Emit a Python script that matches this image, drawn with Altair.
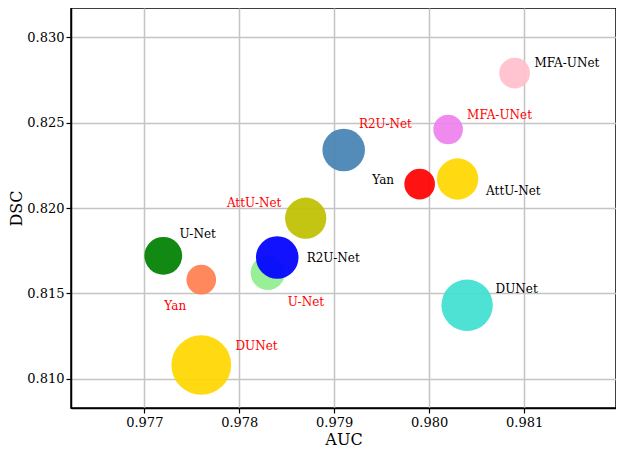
import altair as alt
import pandas as pd

# bubble data (draw order matters: later on top)
names = ["U-Net", "Yan", "U-Net", "R2U-Net", "AttU-Net", "R2U-Net",
         "Yan", "AttU-Net", "MFA-UNet", "MFA-UNet", "DUNet", "DUNet"]
auc = [0.9772, 0.9776, 0.9783, 0.9784, 0.9787, 0.9791,
       0.9799, 0.9803, 0.9802, 0.9809, 0.9804, 0.9776]
dsc = [0.8172, 0.8158, 0.8162, 0.8171, 0.8194, 0.8234,
       0.8214, 0.8217, 0.8246, 0.8279, 0.8143, 0.8108]
bubble = [1425, 876, 1170, 1810, 1700, 1810,
          940, 1705, 876, 940, 2642, 3568]
colors = ["#008000", "#FF7F50", "#90EE90", "#0000FF", "#BFBF00", "#4682B4",
          "#FF0000", "#FFD700", "#EE82EE", "#FFC0CB", "#40E0D0", "#FFD700"]
label_colors = ["black", "red", "red", "black", "red", "red",
                "black", "black", "red", "black", "black", "red"]
label_auc = [0.97737, 0.97721, 0.97851, 0.97871, 0.97787, 0.97926,
             0.97940, 0.98060, 0.98040, 0.98111, 0.98070, 0.97796]
label_dsc = [0.81848, 0.81424, 0.81447, 0.81707, 0.82029, 0.82494,
             0.82164, 0.82097, 0.82547, 0.82849, 0.81525, 0.81189]

x_ticks = [0.977, 0.978, 0.979, 0.980, 0.981]
y_ticks = [0.810, 0.815, 0.820, 0.825, 0.830]

df = pd.DataFrame({
    "name": names, "AUC": auc, "DSC": dsc, "bubble": bubble,
    "color": colors, "lcolor": label_colors,
    "lx": label_auc, "ly": label_dsc,
})

FONT = "DejaVu Serif"

xscale = alt.Scale(domain=[0.976228, 0.981968], nice=False, zero=False)
yscale = alt.Scale(domain=[0.80828, 0.83172], nice=False, zero=False)

xaxis = alt.Axis(values=x_ticks, format=".3f", title="AUC", grid=True,
                 gridColor="#c4c4c4", gridWidth=1.5, domainColor="black",
                 domainWidth=1.5, tickColor="black", tickSize=5, tickWidth=1.2,
                 labelFont=FONT, labelFontSize=13, labelColor="black",
                 labelPadding=3, titleFont=FONT, titleFontSize=16,
                 titleFontWeight="normal", titleColor="black", titlePadding=2)
yaxis = alt.Axis(values=y_ticks, format=".3f", title="DSC", grid=True,
                 gridColor="#c4c4c4", gridWidth=1.5, domainColor="black",
                 domainWidth=1.5, tickColor="black", tickSize=5, tickWidth=1.2,
                 labelFont=FONT, labelFontSize=13, labelColor="black",
                 labelPadding=2, titleFont=FONT, titleFontSize=16,
                 titleFontWeight="normal", titleColor="black", titlePadding=2)

points = alt.Chart(df).mark_circle(opacity=0.93).encode(
    x=alt.X("AUC:Q", scale=xscale, axis=xaxis),
    y=alt.Y("DSC:Q", scale=yscale, axis=yaxis),
    size=alt.Size("bubble:Q", scale=None, legend=None),
    color=alt.Color("color:N", scale=None, legend=None),
    order=alt.Order("idx:Q"),
).transform_window(idx="row_number()")

labels = alt.Chart(df).mark_text(align="left", baseline="middle",
                                 font=FONT, fontSize=12).encode(
    x=alt.X("lx:Q", scale=xscale),
    y=alt.Y("ly:Q", scale=yscale),
    text="name:N",
    color=alt.Color("lcolor:N", scale=None, legend=None),
)

chart = alt.layer(points, labels).properties(
    width=545, height=400,
    autosize=alt.AutoSizeParams(type="none"),
    padding={"left": 63, "top": 0, "right": 0, "bottom": 42},
).configure_view(stroke="black", strokeWidth=1.5)

chart.save("out.html", embed_options={"renderer": "svg", "actions": False})
